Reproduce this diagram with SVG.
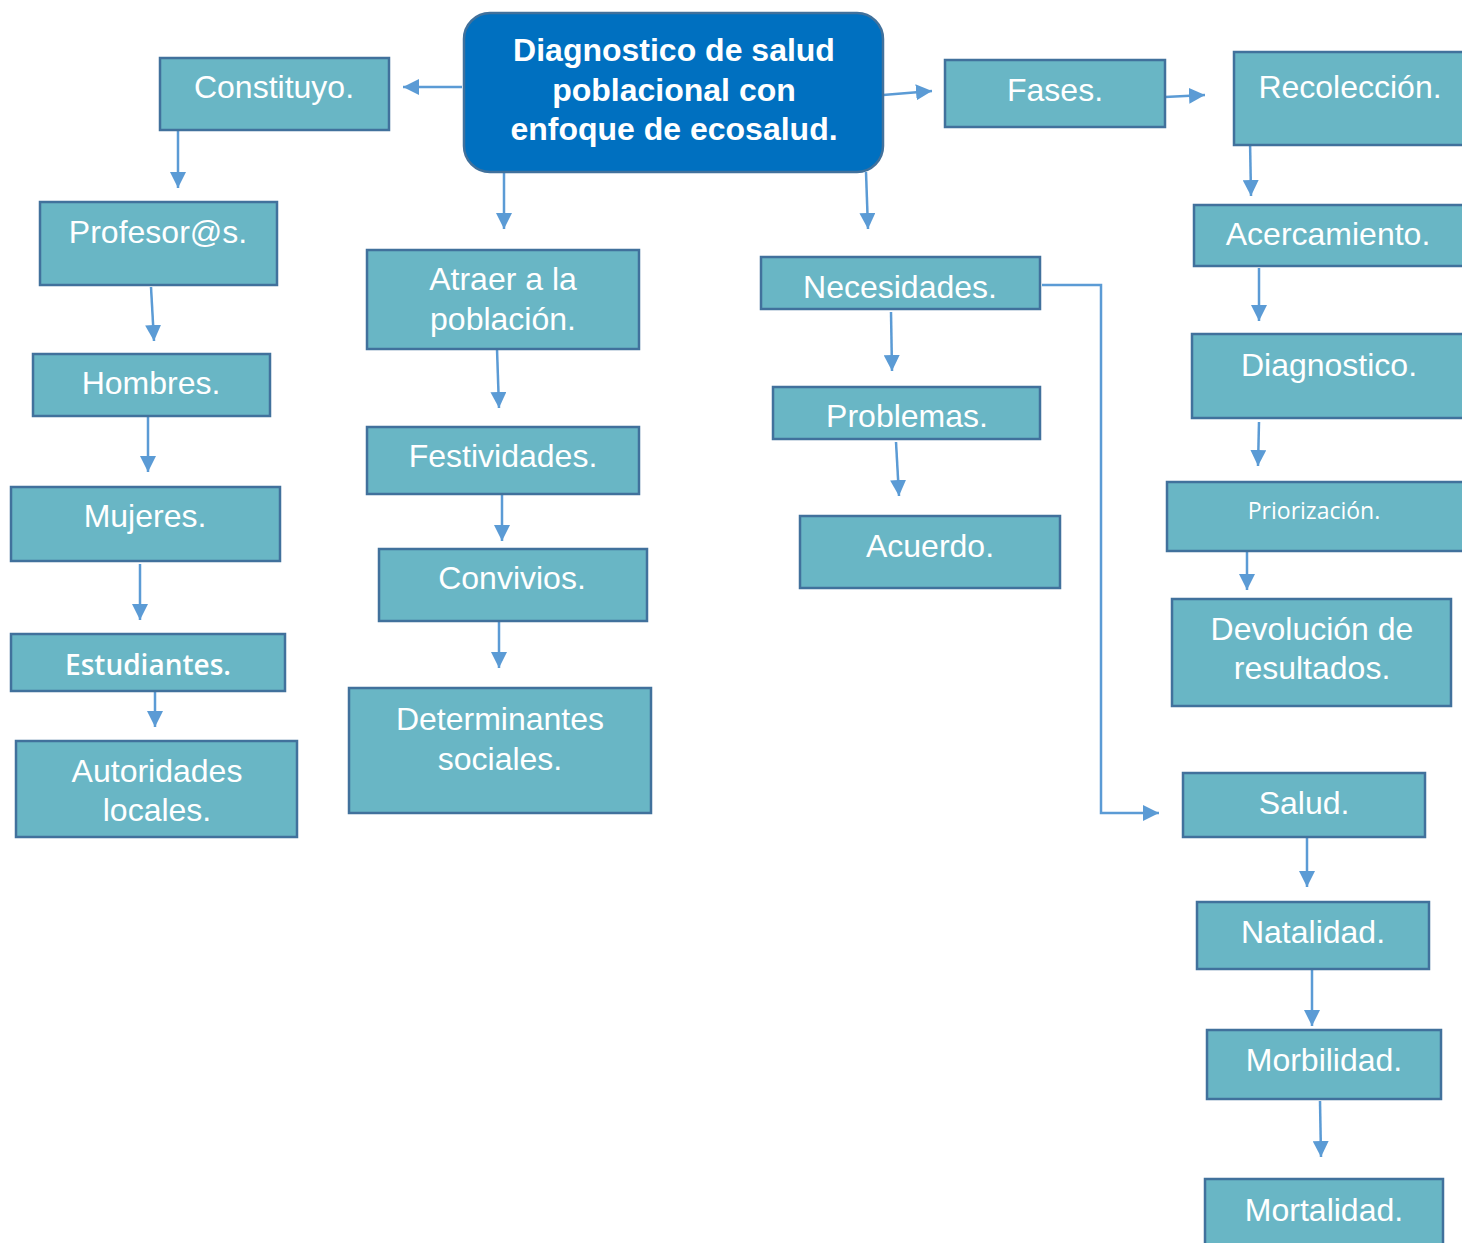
<svg xmlns="http://www.w3.org/2000/svg" width="1462" height="1243" viewBox="0 0 1462 1243">
<style>
.n{fill:#69B6C5;stroke:#41719C;stroke-width:2.5}
.t{font-family:"Liberation Sans",Arial,sans-serif;font-size:32px;fill:#fff;text-anchor:middle}
.b{font-family:"Liberation Sans",Arial,sans-serif;font-size:32px;font-weight:bold;fill:#fff;text-anchor:middle}
.c{fill:none;stroke:#5B9BD5;stroke-width:2.5;marker-end:url(#ah)}
</style>
<defs>
<marker id="ah" markerUnits="userSpaceOnUse" markerWidth="16" markerHeight="16" viewBox="0 0 16 16" refX="16" refY="8" orient="auto">
<path d="M0,0 L16,8 L0,16 Z" fill="#5B9BD5"/>
</marker>
</defs>
<rect width="1462" height="1243" fill="#fff"/>
<g id="connectors">
<path class="c" d="M462,87 L403,87"/>
<path class="c" d="M504,172 L504,229"/>
<path class="c" d="M866,172 L868,229"/>
<path class="c" d="M883,95 L932,91"/>
<path class="c" d="M178,130 L178,188"/>
<path class="c" d="M151,287 L154,341"/>
<path class="c" d="M148,416 L148,472"/>
<path class="c" d="M140,564 L140,620"/>
<path class="c" d="M155,689 L155,727"/>
<path class="c" d="M497,349 L499,408"/>
<path class="c" d="M502,494 L502,541"/>
<path class="c" d="M499,621 L499,668"/>
<path class="c" d="M891,312 L892,371"/>
<path class="c" d="M1042,285 L1101,285 L1101,813 L1159,813"/>
<path class="c" d="M896,442 L899,496"/>
<path class="c" d="M1165,97 L1205,95"/>
<path class="c" d="M1250,140 L1251,196"/>
<path class="c" d="M1259,268 L1259,321"/>
<path class="c" d="M1259,422 L1258,466"/>
<path class="c" d="M1247,551 L1247,590"/>
<path class="c" d="M1307,834 L1307,887"/>
<path class="c" d="M1312,969 L1312,1026"/>
<path class="c" d="M1320,1101 L1321,1157"/>
</g>
<g id="central">
<rect x="464" y="13" width="419" height="159" rx="26" fill="#0070C0" stroke="#41719C" stroke-width="2.5"/>
<text class="b" x="674" y="61">Diagnostico de salud</text>
<text class="b" x="674" y="101">poblacional con</text>
<text class="b" x="674" y="140">enfoque de ecosalud.</text>
</g>
<g id="constituyo"><rect class="n" x="160" y="58" width="229" height="72"/><text class="t" x="274" y="98">Constituyo.</text></g>
<g id="profesores"><rect class="n" x="40" y="202" width="237" height="83"/><text class="t" x="158" y="243">Profesor@s.</text></g>
<g id="hombres"><rect class="n" x="33" y="354" width="237" height="62"/><text class="t" x="151" y="394">Hombres.</text></g>
<g id="mujeres"><rect class="n" x="11" y="487" width="269" height="74"/><text class="t" x="145" y="527">Mujeres.</text></g>
<g id="estudiantes"><rect class="n" x="11" y="634" width="274" height="57"/><text x="148" y="675" style="font-family:'Open Sans','Noto Sans',sans-serif;font-size:28px;font-weight:600;fill:#fff;text-anchor:middle">Estudiantes.</text></g>
<g id="autoridades"><rect class="n" x="16" y="741" width="281" height="96"/><text class="t" x="157" y="782">Autoridades</text><text class="t" x="157" y="821">locales.</text></g>
<g id="atraer"><rect class="n" x="367" y="250" width="272" height="99"/><text class="t" x="503" y="290">Atraer a la</text><text class="t" x="503" y="330">población.</text></g>
<g id="festividades"><rect class="n" x="367" y="427" width="272" height="67"/><text class="t" x="503" y="467">Festividades.</text></g>
<g id="convivios"><rect class="n" x="379" y="549" width="268" height="72"/><text class="t" x="512" y="589">Convivios.</text></g>
<g id="determinantes"><rect class="n" x="349" y="688" width="302" height="125"/><text class="t" x="500" y="730">Determinantes</text><text class="t" x="500" y="770">sociales.</text></g>
<g id="necesidades"><rect class="n" x="761" y="257" width="279" height="52"/><text class="t" x="900" y="298">Necesidades.</text></g>
<g id="problemas"><rect class="n" x="773" y="387" width="267" height="52"/><text class="t" x="907" y="427">Problemas.</text></g>
<g id="acuerdo"><rect class="n" x="800" y="516" width="260" height="72"/><text class="t" x="930" y="557">Acuerdo.</text></g>
<g id="fases"><rect class="n" x="945" y="60" width="220" height="67"/><text class="t" x="1055" y="101">Fases.</text></g>
<g id="recoleccion"><rect class="n" x="1234" y="52" width="240" height="93"/><text class="t" x="1350" y="98">Recolección.</text></g>
<g id="acercamiento"><rect class="n" x="1194" y="205" width="280" height="61"/><text class="t" x="1328" y="245">Acercamiento.</text></g>
<g id="diagnostico"><rect class="n" x="1192" y="334" width="280" height="84"/><text class="t" x="1329" y="376">Diagnostico.</text></g>
<g id="priorizacion"><rect class="n" x="1167" y="482" width="300" height="69"/><text x="1314" y="519" style="font-family:'Open Sans','Noto Sans',sans-serif;font-size:23px;fill:#fff;text-anchor:middle">Priorización.</text></g>
<g id="devolucion"><rect class="n" x="1172" y="599" width="279" height="107"/><text class="t" x="1312" y="640">Devolución de</text><text class="t" x="1312" y="679">resultados.</text></g>
<g id="salud"><rect class="n" x="1183" y="773" width="242" height="64"/><text class="t" x="1304" y="814">Salud.</text></g>
<g id="natalidad"><rect class="n" x="1197" y="902" width="232" height="67"/><text class="t" x="1313" y="943">Natalidad.</text></g>
<g id="morbilidad"><rect class="n" x="1207" y="1030" width="234" height="69"/><text class="t" x="1324" y="1071">Morbilidad.</text></g>
<g id="mortalidad"><rect class="n" x="1205" y="1179" width="238" height="70"/><text class="t" x="1324" y="1221">Mortalidad.</text></g>
</svg>
